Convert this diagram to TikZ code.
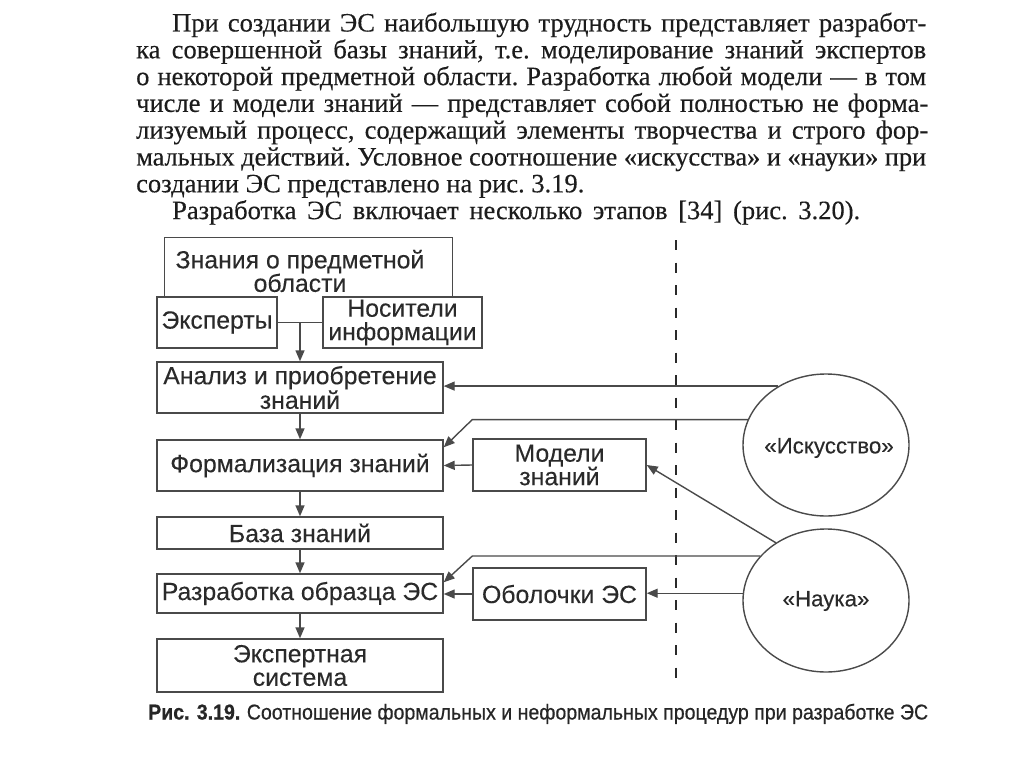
\documentclass[tikz,border=0pt]{standalone}
\usepackage{fontspec}
\usepackage{graphicx}
\setmainfont{Liberation Serif}[FakeBold=0.3]
\newfontfamily\diag{Liberation Sans}[FakeBold=0.2]
\newfontfamily\capfont{Liberation Sans}[FakeBold=0.5]
\newfontfamily\capbold{Liberation Sans Bold}[FakeBold=0.6]
\usetikzlibrary{arrows.meta,shapes.geometric}
\definecolor{linec}{HTML}{4A4A4A}
\definecolor{txtc}{HTML}{2A2A2A}
\definecolor{bodyc}{HTML}{1C1C1C}
\definecolor{capc}{HTML}{262626}
\newsavebox\jlbox
\newcommand\jline[2]{%
  \sbox\jlbox{#2}%
  \ifdim\wd\jlbox>#1\relax
    \resizebox{#1}{\ht\jlbox}{\usebox\jlbox}%
  \else
    \hbox to #1{\spaceskip=.25em plus 4em\relax #2}%
  \fi}
\tikzset{
  body/.style={font=\frenchspacing\fontsize{26.5}{26.5}\selectfont, text=bodyc, inner sep=0pt, anchor=base west},
  box/.style={draw=linec, line width=1.4pt, rectangle, inner sep=0pt, align=center,
    font={\diag\fontsize{24.8}{23.5}\selectfont}, text=txtc},
  ell/.style={draw=linec, line width=1.4pt, ellipse, inner sep=0pt},
  elltext/.style={inner sep=0pt, font={\diag\fontsize{22.3}{23}\selectfont}, text=txtc},
  conn/.style={draw=linec, line width=1.4pt},
  arr/.style={draw=linec, line width=1.4pt, -{Triangle[length=11pt,width=9pt]}},
  dashline/.style={draw=txtc, line width=2.8pt, dash pattern=on 10pt off 12.5pt},
}
\begin{document}
\begin{tikzpicture}[x=1pt,y=-1pt]
\fill[white] (0,0) rectangle (1024,767);
\useasboundingbox (0,0) rectangle (1024,767);

% body text
\node[body] (t1) at (172,31.5) {\jline{754pt}{При создании ЭС наибольшую трудность представляет разработ-}};
\node[body] (t2) at (136,58.3) {\jline{790pt}{ка совершенной базы знаний, т.е. моделирование знаний экспертов}};
\node[body] (t3) at (136,85.1) {\jline{790pt}{о некоторой предметной области. Разработка любой модели — в том}};
\node[body] (t4) at (136,111.9) {\jline{792pt}{числе и модели знаний — представляет собой полностью не форма-}};
\node[body] (t5) at (136,138.7) {\jline{792pt}{лизуемый процесс, содержащий элементы творчества и строго фор-}};
\node[body] (t6) at (136,165.5) {\jline{790pt}{мальных действий. Условное соотношение «искусства» и «науки» при}};
\node[body] (t7) at (136,192.3) {создании ЭС представлено на рис. 3.19.};
\node[body] (t8) at (172,219.1) {\jline{688pt}{Разработка ЭС включает несколько этапов [34] (рис. 3.20).}};

% dashed divider
\coordinate (dtop) at (676,240);
\coordinate (dbot) at (676,690);
\draw[dashline] (dtop) -- (dbot);

% boxes
\node[box, draw=none, minimum width=287pt, minimum height=59pt] (znan) at (308.5,267.5) {};
\draw[conn] (znan.south west) -- (znan.north west) -- (znan.north east) -- (znan.south east);
\node[box, draw=none] (znantext) at (300,271) {Знания о предметной\\области};
\node[box, minimum width=120pt, minimum height=51pt] (eksp) at (217,322.5) {Эксперты};
\node[box, minimum width=159pt, minimum height=51pt] (nosit) at (402.5,322.5) {Носители\\информации};
\node[box, minimum width=286pt, minimum height=51pt] (analiz) at (300,387.5) {Анализ и приобретение\\знаний};
\node[box, minimum width=286pt, minimum height=51pt] (form) at (300,465.5) {Формализация знаний};
\node[box, minimum width=286pt, minimum height=32pt] (baza) at (300,533) {База знаний};
\node[box, minimum width=286pt, minimum height=39pt] (razr) at (300,593.5) {Разработка образца ЭС};
\node[box, minimum width=286pt, minimum height=53pt] (eks) at (300,665.5) {Экспертная\\система};
\node[box, minimum width=173pt, minimum height=52pt] (modeli) at (559.5,465) {Модели\\знаний};
\node[box, minimum width=173pt, minimum height=52pt] (obol) at (559.5,594) {Оболочки ЭС};
\node[ell, minimum width=166pt, minimum height=142pt] (isk) at (826,445) {};
\node[elltext] (isktext) at (829,448) {«Искусство»};
\node[ell, minimum width=166pt, minimum height=143pt] (nauka) at (826,600.5) {};
\node[elltext] (naukatext) at (826,601) {«Наука»};

% left column connectors
\draw[conn] (eksp.east) -- (nosit.west);
\coordinate (jn) at (eksp.east -| analiz.north);
\draw[arr] (jn) -- (analiz.north);
\draw[arr] (analiz.south) -- (form.north);
\draw[arr] (form.south) -- (baza.north);
\draw[arr] (baza.south) -- (razr.north);
\draw[arr] (razr.south) -- (eks.north);

% right side connectors
\draw[arr] (isk.129.6) -- (isk.129.6 -| analiz.east);
\coordinate (b1) at (isk.162.2 -| modeli.west);
\draw[arr] (isk.162.2) -- (b1) -- ([yshift=-8pt]form.north east);
\draw[arr] (modeli.west) -- (form.east);
\draw[arr] (nauka.131.8) -- (modeli.east);
\coordinate (b2) at (nauka.146.1 -| obol.west);
\draw[arr] (nauka.146.1) -- (b2) -- ([yshift=-9pt]razr.north east);
\draw[arr] (obol.west) -- (obol.west -| razr.east);
\draw[arr] (nauka.175.5) -- (nauka.175.5 -| obol.east);

% caption
\node[inner sep=0pt, anchor=base west, text=capc] (cap) at (148,719.5)
  {\resizebox{780pt}{\height}{\fontsize{21.5}{21.5}\selectfont{\capbold Рис. 3.19.} \capfont Соотношение формальных и неформальных процедур при разработке ЭС}};
\end{tikzpicture}
\end{document}
